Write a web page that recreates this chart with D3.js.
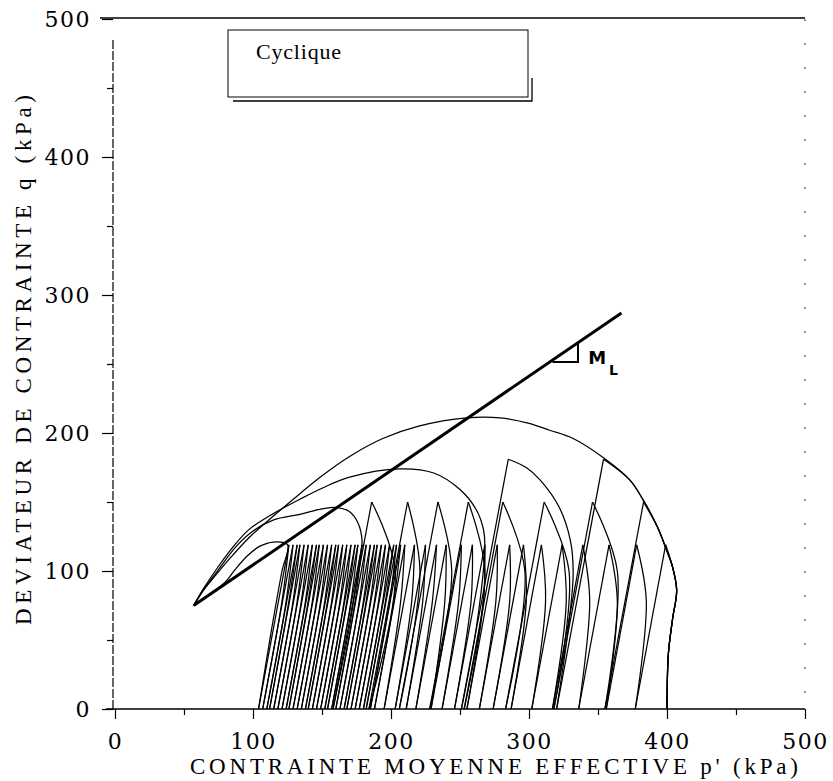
<!DOCTYPE html>
<html><head><meta charset="utf-8">
<script src="https://cdn.jsdelivr.net/npm/d3@7/dist/d3.min.js"></script>
<style>body{margin:0;background:#fff}svg{display:block}</style>
</head><body>
<svg id="chart" width="833" height="781"></svg>
<script>
// ---------------- DATA ----------------
const xMajorTicks = [0,100,200,300,400,500];
const xMinorTicks = [50,150,250,350,450];
const yMajorTicks = [0,100,200,300,400,500];
const yMinorTicks = [50,150,250,350,450];
const xTitle = "CONTRAINTE MOYENNE EFFECTIVE p' (kPa)";
const yTitle = "DEVIATEUR DE CONTRAINTE q (kPa)";
const legendLabel = "Cyclique";

// critical state / failure line and its slope mark
const cslLine = [[57,75],[367,287]];
const slopeMark = [[317,251.5],[335.5,251.5],[335.5,265.5]];

// Test 1: cyclic amplitude q = 119 kPa
const ampA = 119, bulgeQA = 78;
const startA = [[400,0],[401,40],[404,65],[407,86],[404,103],[399,119]];
const apexA = [399,378,358,339,324,309,296,286,277,268,259,251,240,233,225,217,210,207,204,202,199,196,193,190,188,185,182,179,176,174,171,168,165,162,160,157,154,151,148,146,143,140,137,134,132,129,126];
const bottomA = [377,356,336,317,302,287,274,264,255,246,237,229,218,211,203,195,188,185,182,180,177,174,171,168,166,163,160,157,154,152,149,146,143,140,138,135,132,129,126,124,121,118,115,112,110,107,104];
const bulgeA = [385,364,344,327,312,298,286,276,267,258,249,239,230,223,215,207,202,199,196,194,191,188,185,182,180,177,174,171,168,166,163,160,157,154,152,149,146,143,140,138,135,132,129,126,124,121];
const endA = [[104,0],[113,55],[121,100],[125,119],[115,121],[105,118],[96,111],[87,101],[80,92],[70,84],[57,75]];

// Test 2: cyclic amplitude q = 150 kPa
const ampB = 150, bulgeQB = 100;
const startB = [[400,0],[401,40],[404,65],[407,86],[404,103],[399,117],[393,132],[383,150]];
const apexB = [383,346,311,281,256,234,212,186];
const bottomB = [355,318,283,253,228,206,184,158];
const bulgeB = [364,329,297,268,244,221,203];
const endB = [[158,0],[170,60],[176,100],[179,122],[176,135],[170,143],[161,146],[150,145],[134,141],[115,137],[100,129],[88,118],[75,101],[64,86],[57,75]];

// Test 3: cyclic amplitude q = 181 kPa
const startC = [[400,0],[401,40],[404,65],[407,86],[404,103],[399,117],[393,132],[383,151],[373,166],[354,181]];
const unloadC = [[354,181],[320,0]];
const reloadC = [[320,0],[328,55],[332,98],[330,122],[322,146],[308,166],[298,175],[285,181]];
const unloadC2 = [[285,181],[251,0]];
const endC = [[251,0],[262,60],[268,118],[267,130],[262,144],[250,159],[231,171],[206,174],[170,168],[150,160],[134,152],[112,140],[97,130],[86,118],[74,102],[64,87],[57,75]];

// Test 4: amplitude 210 kPa (failure on first loading)
const pathD = [[400,0],[401,40],[404,65],[407,86],[404,103],[399,117],[393,132],[383,151],[373,166],[354,182],[332,196],[315,202],[300,207],[279,211],[255,211],[220,205],[194,196],[170,183],[150,169],[134,156],[115,140],[98,125],[84,110],[73,97],[64,86],[57,75]];

// ---------------- CHART ----------------
const svg = d3.select("#chart");
const x = d3.scaleLinear().domain([0,500]).range([115,805]);
const y = d3.scaleLinear().domain([0,500]).range([709,19]);
const serif = "'DejaVu Serif', serif";

const curve = d3.line().x(d=>x(d[0])).y(d=>y(d[1])).curve(d3.curveCatmullRom.alpha(0.5));
const straight = d3.line().x(d=>x(d[0])).y(d=>y(d[1]));

// frame lines
svg.append("line").attr("x1",100).attr("x2",x(500)).attr("y1",y(500)-1).attr("y2",y(500)-1)
  .attr("stroke","#000").attr("stroke-width",1.6);
svg.append("line").attr("x1",x(0)-2).attr("x2",x(0)-2).attr("y1",40).attr("y2",y(0))
  .attr("stroke","#000").attr("stroke-width",1.2).attr("stroke-dasharray","9,2");
svg.append("line").attr("x1",x(500)).attr("x2",x(500)).attr("y1",y(500)).attr("y2",y(0))
  .attr("stroke","#333").attr("stroke-width",1).attr("stroke-dasharray","2,22");
svg.append("line").attr("x1",106).attr("x2",x(500)).attr("y1",y(0)).attr("y2",y(0))
  .attr("stroke","#000").attr("stroke-width",1.6);

// axes
function styleAxis(g){
  g.select(".domain").remove();
  g.selectAll("line").attr("stroke","#000").attr("stroke-width",1.2);
  g.selectAll("text").attr("font-family",serif).attr("font-size",22).attr("fill","#000").attr("letter-spacing",1.5);
}
svg.append("g").attr("transform",`translate(0,${y(0)})`)
  .call(d3.axisBottom(x).tickValues(xMinorTicks).tickSize(6).tickFormat("")).call(styleAxis);
svg.append("g").attr("transform",`translate(0,${y(0)})`)
  .call(d3.axisBottom(x).tickValues(xMajorTicks).tickSize(10).tickPadding(14).tickFormat(d3.format("d"))).call(styleAxis);
svg.append("g").attr("transform",`translate(${x(0)-2},0)`)
  .call(d3.axisLeft(y).tickValues(yMinorTicks).tickSize(6).tickFormat("")).call(styleAxis);
svg.append("g").attr("transform",`translate(${x(0)-2},0)`)
  .call(d3.axisLeft(y).tickValues(yMajorTicks).tickSize(11).tickPadding(11).tickFormat(d3.format("d"))).call(styleAxis);

// titles
svg.append("text").attr("x",190).attr("y",774).attr("font-family","'Liberation Serif', serif")
  .attr("font-size",23).attr("textLength",608).attr("lengthAdjust","spacing").text(xTitle);
svg.append("text").attr("transform","translate(31,625) rotate(-90)").attr("font-family","'Liberation Serif', serif")
  .attr("font-size",23).attr("textLength",530).attr("lengthAdjust","spacing").text(yTitle);

// legend box
const lg = svg.append("g");
lg.append("rect").attr("x",228).attr("y",30).attr("width",300).attr("height",67)
  .attr("fill","none").attr("stroke","#000").attr("stroke-width",1);
lg.append("polyline").attr("points","233,101 532,101 532,78").attr("fill","none").attr("stroke","#000").attr("stroke-width",1.3);
lg.append("text").attr("x",256).attr("y",59).attr("font-family","'Liberation Serif', serif")
  .attr("font-size",22).attr("letter-spacing",0.8).text(legendLabel);

// stress paths
const paths = svg.append("g").attr("fill","none").attr("stroke","#000").attr("stroke-width",1.25)
  .attr("stroke-linejoin","round");

function drawCyclic(start, apex, bottom, bulge, amp, bulgeQ, end){
  paths.append("path").attr("d", curve(start));
  apex.forEach((a,i)=>{
    paths.append("path").attr("d", straight([[a,amp],[bottom[i],0]]));
    if(i < apex.length-1){
      paths.append("path").attr("d", curve([[bottom[i],0],[bulge[i],bulgeQ],[apex[i+1],amp]]));
    }
  });
  paths.append("path").attr("d", curve(end));
}
drawCyclic(startA, apexA, bottomA, bulgeA, ampA, bulgeQA, endA);
drawCyclic(startB, apexB, bottomB, bulgeB, ampB, bulgeQB, endB);

paths.append("path").attr("d", curve(startC));
paths.append("path").attr("d", straight(unloadC));
paths.append("path").attr("d", curve(reloadC));
paths.append("path").attr("d", straight(unloadC2));
paths.append("path").attr("d", curve(endC));
paths.append("path").attr("d", curve(pathD));

// critical state line
svg.append("path").attr("d", straight(cslLine)).attr("stroke","#000").attr("stroke-width",3).attr("fill","none");
svg.append("path").attr("d", straight(slopeMark)).attr("stroke","#000").attr("stroke-width",2).attr("fill","none");
svg.append("text").attr("x",x(343)).attr("y",y(250)).attr("font-family","'DejaVu Sans', sans-serif")
  .attr("font-weight","bold").attr("font-size",18).text("M");
svg.append("text").attr("x",x(358)).attr("y",y(242)).attr("font-family","'DejaVu Sans', sans-serif")
  .attr("font-weight","bold").attr("font-size",14).text("L");
</script>
</body></html>
